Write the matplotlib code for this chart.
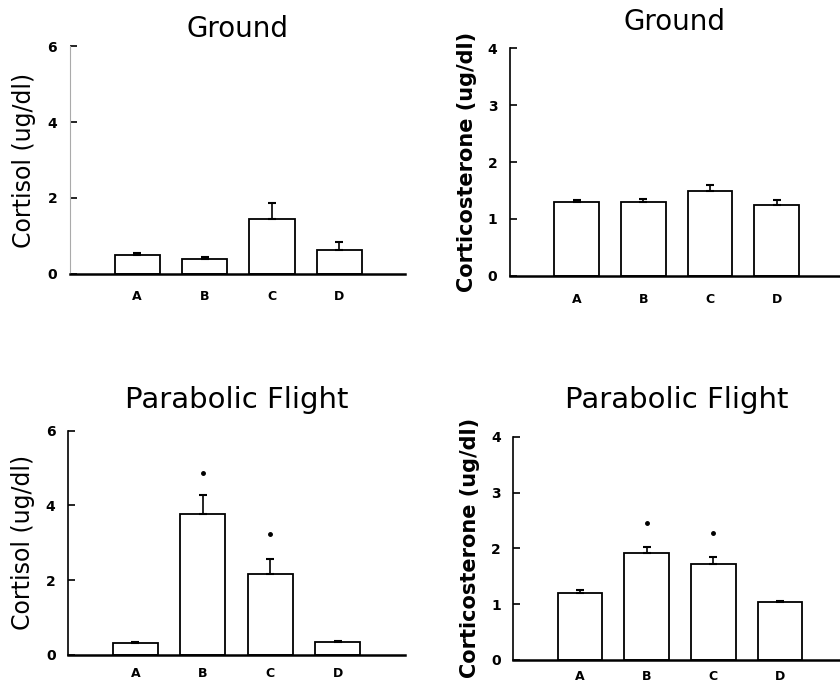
import numpy as np
from matplotlib import pyplot as plt

groups = ["A", "B", "C", "D"]

# top-left: ground cortisol
ground_cortisol = [0.50, 0.40, 1.45, 0.63]
ground_cortisol_err = [0.06, 0.04, 0.42, 0.20]

# top-right: ground corticosterone
ground_cort = [1.29, 1.29, 1.49, 1.24]
ground_cort_err = [0.04, 0.06, 0.10, 0.10]

# bottom-left: parabolic flight cortisol
flight_cortisol = [0.33, 3.78, 2.17, 0.34]
flight_cortisol_err = [0.02, 0.50, 0.40, 0.03]
flight_cortisol_star = [None, 4.88, 3.24, None]

# bottom-right: parabolic flight corticosterone
flight_cort = [1.19, 1.92, 1.71, 1.03]
flight_cort_err = [0.06, 0.11, 0.13, 0.02]
flight_cort_star = [None, 2.45, 2.28, None]


def panel(fig, rect, title, ylabel, values, errs, ymax, yticks, xmax,
          stars=None, title_y=1.06, title_size=20, label_bold=False,
          label_size=16, xpad=12):
    ax = fig.add_axes(rect)
    x = np.arange(1, len(groups) + 1)
    ax.bar(x, values, width=0.67, color="white", edgecolor="black", linewidth=1.3)
    ax.errorbar(x, values, yerr=[np.zeros(len(errs)), errs], fmt="none",
                ecolor="black", elinewidth=1.2, capsize=3, capthick=1.5)
    if stars is not None:
        for xi, s in zip(x, stars):
            if s is not None:
                ax.plot(xi, s, marker="o", color="black", markersize=2.5)
    ax.set_xlim(0, xmax)
    ax.set_ylim(0, ymax)
    ax.set_yticks(yticks)
    ax.set_yticklabels([str(t) for t in yticks], fontsize=10, fontweight="bold")
    ax.set_xticks(x)
    ax.set_xticklabels(groups, fontsize=9, fontweight="bold")
    ax.tick_params(axis="x", length=0, pad=xpad)
    ax.tick_params(axis="y", direction="in", length=5, width=1.2, pad=9)
    for s in ["top", "right"]:
        ax.spines[s].set_visible(False)
    ax.spines["bottom"].set_linewidth(1.8)
    ax.spines["left"].set_linewidth(1.2)
    ax.set_title(title, fontsize=title_size, y=title_y, pad=0)
    ax.set_ylabel(ylabel, fontsize=label_size,
                  fontweight="bold" if label_bold else "normal", labelpad=8)
    return ax


fig = plt.figure(figsize=(8.4, 6.88), dpi=100)

ax1 = panel(fig, [0.083, 0.602, 0.399, 0.331], "Ground", "Cortisol (ug/dl)",
            ground_cortisol, ground_cortisol_err, 6, [0, 2, 4, 6], 4.97,
            title_y=1.04, label_size=17)
ax1.spines["left"].set_color("#aaaaaa")
ax1.spines["left"].set_linewidth(0.8)

panel(fig, [0.607, 0.599, 0.393, 0.331], "Ground", "Corticosterone (ug/dl)",
      ground_cort, ground_cort_err, 4, [0, 1, 2, 3, 4], 4.95,
      title_y=1.08, label_bold=True, label_size=15)

panel(fig, [0.081, 0.048, 0.401, 0.326], "Parabolic Flight", "Cortisol (ug/dl)",
      flight_cortisol, flight_cortisol_err, 6, [0, 2, 4, 6], 5.0,
      stars=flight_cortisol_star, title_y=1.1, title_size=21, label_size=17,
      xpad=9)

panel(fig, [0.611, 0.041, 0.389, 0.324], "Parabolic Flight", "Corticosterone (ug/dl)",
      flight_cort, flight_cort_err, 4, [0, 1, 2, 3, 4], 4.9,
      stars=flight_cort_star, title_y=1.13, title_size=21, label_bold=True,
      label_size=15, xpad=7)

plt.savefig("out.png", dpi=100)
